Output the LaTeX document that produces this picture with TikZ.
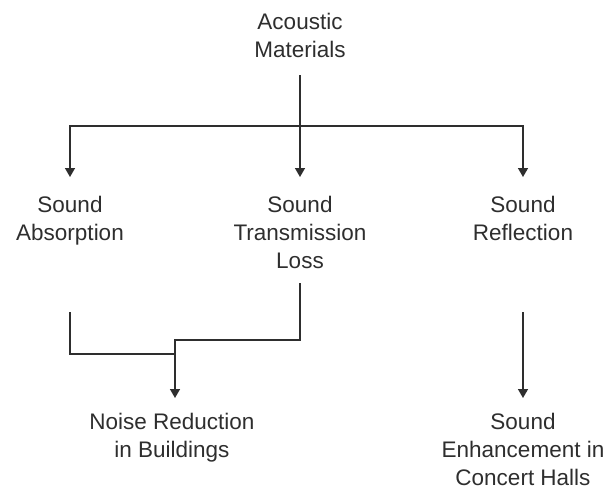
\documentclass[tikz,border=0pt]{standalone}
\usepackage{fontspec}
\setmainfont{Liberation Sans}
\usetikzlibrary{arrows.meta}
\definecolor{ink}{HTML}{2E2E2E}
\tikzset{
  lbl/.style={align=center, anchor=north, text=ink, font=\fontsize{22.5}{28}\selectfont, inner sep=0pt},
  conn/.style={draw=ink, line width=1.4pt},
  arr/.style={conn, -{Triangle[width=10pt,length=9pt]}}
}
\begin{document}
\begin{tikzpicture}[x=1pt,y=-1pt]
\useasboundingbox (0,0) rectangle (605,488);
\node[lbl] (am) at (300,13) {Acoustic\\Materials};
\node[lbl] (ab) at (70,196) {Sound\\Absorption};
\node[lbl] (tl) at (300,196) {Sound\\Transmission\\Loss};
\node[lbl] (rf) at (523,196) {Sound\\Reflection};
\node[lbl] (nr) at (172,413) {Noise Reduction\\in Buildings};
\node[lbl] (en) at (523,413) {Sound\\Enhancement in\\Concert Halls};
% junction coordinates
\coordinate (amo) at (300,75);
\coordinate (bus) at (300,126);
\coordinate (abi) at (70,177);
\coordinate (tli) at (300,177);
\coordinate (rfi) at (523,177);
\coordinate (abo) at (70,312);
\coordinate (tlo) at (300,283);
\coordinate (rfo) at (523,312);
\coordinate (j1) at (175,340);
\coordinate (j2) at (175,354);
\coordinate (nri) at (175,398);
\coordinate (eni) at (523,398);
% connectors
\draw[arr] (amo) -- (tli);
\draw[arr] (bus) -| (abi);
\draw[arr] (bus) -| (rfi);
\draw[arr] (tlo) |- (j1) -- (nri);
\draw[conn] (abo) |- (j2);
\draw[arr] (rfo) -- (eni);
\end{tikzpicture}
\end{document}
